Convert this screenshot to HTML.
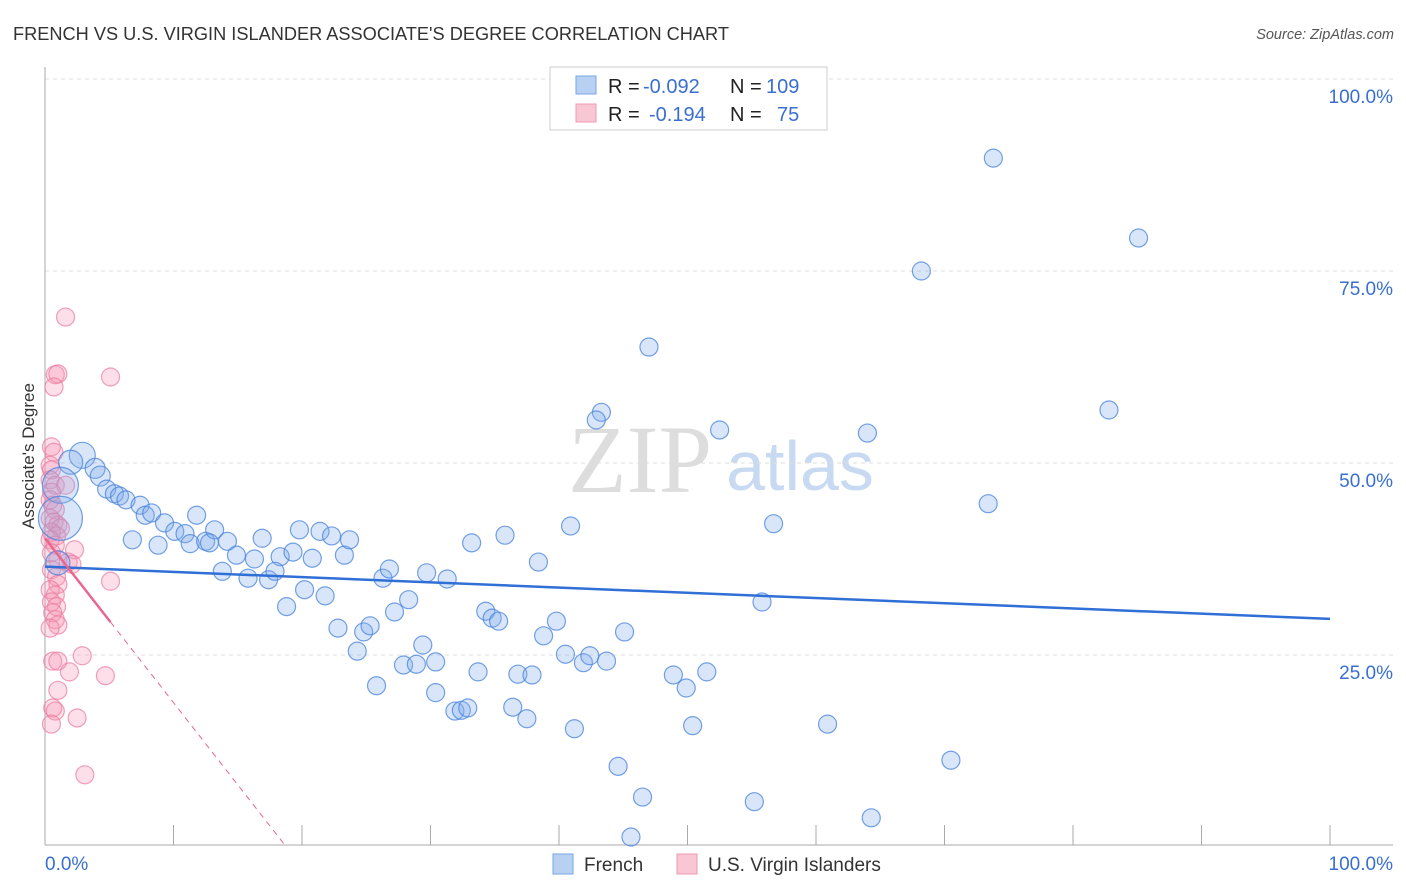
<!DOCTYPE html>
<html><head><meta charset="utf-8"><style>
body{margin:0;background:#fff;font-family:"Liberation Sans",sans-serif;}
#wrap{position:relative;width:1406px;height:892px;overflow:hidden;}
</style></head><body>
<div id="wrap">
<svg id="svg" width="1406" height="892" xmlns="http://www.w3.org/2000/svg">
<text x="13" y="40" font-size="18.2" fill="#333">FRENCH VS U.S. VIRGIN ISLANDER ASSOCIATE'S DEGREE CORRELATION CHART</text>
<text x="1394" y="39" font-size="14.5" fill="#555" font-style="italic" text-anchor="end">Source: ZipAtlas.com</text>
<text x="640" y="492" font-size="96" fill="#ddd" text-anchor="middle" font-family="Liberation Serif,serif">ZIP</text>
<text x="800" y="490" font-size="70" fill="#c8d9f2" text-anchor="middle">atlas</text>
<text transform="translate(34,456) rotate(-90)" font-size="17" fill="#333" text-anchor="middle">Associate's Degree</text>
<g id="grid"></g><g id="pts"></g><g id="lines"></g>
<g>
<rect x="550" y="67" width="277" height="63" fill="#fff" stroke="#ccc"/>
<rect x="576" y="76" width="20" height="18" fill="#b8d1f3" stroke="#7aa6e6"/>
<rect x="576" y="104" width="20" height="18" fill="#f9c6d4" stroke="#ee99b2"/>
<text x="608" y="93" font-size="20" fill="#222">R =</text>
<text x="643" y="93" font-size="20" fill="#3a6fd0">-0.092</text>
<text x="730" y="93" font-size="20" fill="#222">N =</text>
<text x="766" y="93" font-size="20" fill="#3a6fd0">109</text>
<text x="608" y="121" font-size="20" fill="#222">R =</text>
<text x="649" y="121" font-size="20" fill="#3a6fd0">-0.194</text>
<text x="730" y="121" font-size="20" fill="#222">N =</text>
<text x="777" y="121" font-size="20" fill="#3a6fd0">75</text>
</g>
<g>
<rect x="553" y="854" width="20" height="20" fill="#b8d1f3" stroke="#7aa6e6"/>
<text x="584" y="871" font-size="19" fill="#333">French</text>
<rect x="677" y="854" width="20" height="20" fill="#f9c6d4" stroke="#ee99b2"/>
<text x="708" y="871" font-size="19" fill="#333">U.S. Virgin Islanders</text>
</g>
<text x="45" y="870" font-size="19" fill="#3a6fd0">0.0%</text>
<text x="1393" y="870" font-size="19" fill="#3a6fd0" text-anchor="end">100.0%</text>
</svg>
</div>
<script>
const yTicks=[100,75,50,25];
const yTickLabels=["100.0%","75.0%","50.0%","25.0%"];
const frenchX=[73.8,85.1,68.2,47.0,82.8,43.3,42.9,52.5,64.0,73.4,56.7,40.9,35.8,33.2,38.4,55.8,45.1,48.9,51.5,49.9,60.9,50.4,70.5,44.6,46.5,55.2,64.3,45.6,2.9,2.0,1.2,1.2,3.9,4.3,4.8,5.4,5.8,6.3,7.4,7.8,8.3,9.3,10.1,10.9,11.8,11.3,12.5,13.2,14.2,6.8,8.8,12.8,14.9,16.3,16.9,18.3,19.3,19.8,20.8,21.4,22.3,23.3,23.7,13.8,15.8,17.4,17.9,18.8,20.2,21.8,22.8,24.3,24.8,25.3,25.8,26.3,26.8,27.2,27.9,28.3,28.9,29.4,29.7,30.4,31.3,30.4,31.9,32.4,32.9,33.7,34.3,34.8,35.3,36.4,36.8,37.5,37.9,38.8,39.8,40.5,41.2,41.9,42.4,43.7,1.0];
const frenchY=[89.7,79.3,75.0,65.1,56.9,56.6,55.6,54.3,53.9,44.7,42.1,41.8,40.6,39.6,37.1,31.9,28.0,22.4,22.8,20.7,16.0,15.8,11.3,10.5,6.5,5.9,3.8,1.3,51.0,50.1,47.1,42.8,49.3,48.3,46.6,46.0,45.7,45.2,44.5,43.2,43.5,42.2,41.1,40.8,43.2,39.5,39.8,41.3,39.8,40.0,39.3,39.6,38.0,37.5,40.2,37.8,38.4,41.3,37.6,41.1,40.5,38.0,40.0,35.9,35.0,34.8,35.9,31.3,33.5,32.7,28.5,25.5,28.0,28.8,21.0,35.0,36.2,30.6,23.7,32.2,23.8,26.3,35.7,24.1,34.9,20.1,17.7,17.8,18.1,22.8,30.7,29.8,29.4,18.2,22.5,16.7,22.4,27.5,29.4,25.1,15.4,24.0,24.9,24.2,37.0];
const frenchR=[9,9,9,9,9,9,9,9,9,9,9,9,9,9,9,9,9,9,9,9,9,9,9,9,9,9,9,9,13,12,18,22,10,10,9,9,9,9,9,9,9,9,9,9,9,9,9,9,9,9,9,9,9,9,9,9,9,9,9,9,9,9,9,9,9,9,9,9,9,9,9,9,9,9,9,9,9,9,9,9,9,9,9,9,9,9,9,9,9,9,9,9,9,9,9,9,9,9,9,9,9,9,9,9,12];
const usviX=[1.6,5.1,0.8,1.0,0.7,0.5,0.7,0.4,0.5,0.4,0.8,1.6,0.5,0.4,0.6,0.8,0.4,0.7,1.0,1.2,0.5,0.9,0.4,0.8,0.5,2.3,1.0,1.8,2.1,0.5,0.9,1.0,5.1,0.4,0.8,0.5,0.9,0.6,0.8,1.0,0.4,0.6,1.0,2.9,1.9,1.0,4.7,0.6,0.8,2.5,0.5,3.1];
const usviY=[69.0,61.2,61.5,61.6,59.9,52.1,51.4,49.7,49.1,47.8,47.1,47.1,46.2,45.2,44.5,43.9,42.8,42.3,41.9,41.5,41.0,40.5,40.0,39.3,38.3,38.7,37.4,37.1,36.8,36.1,35.2,34.2,34.6,33.5,32.8,31.9,31.3,30.5,29.6,28.9,28.5,24.2,24.2,24.9,22.8,20.4,22.3,18.1,17.7,16.8,16.0,9.4];
const frenchReg=[36.5,29.7];
const usviReg=[40.2,-2.14];
const X0=45,X1=1330,Y0=847,Y100=79;
const sx=v=>X0+(X1-X0)*v/100, sy=v=>Y0+(Y100-Y0)*v/100;
const NS="http://www.w3.org/2000/svg";
function mk(t,a,p){const e=document.createElementNS(NS,t);for(const k in a)e.setAttribute(k,a[k]);p.appendChild(e);return e;}
const grid=document.getElementById('grid');
yTicks.forEach((t,i)=>{
 const l=mk('line',{x1:45,x2:1393,y1:sy(t),y2:sy(t),stroke:'#ddd','stroke-dasharray':'4,4'},grid);
 
 
 const tx=mk('text',{x:1393,y:sy(t)+24,'font-size':19,fill:'#3a6fd0','text-anchor':'end'},grid);
 tx.textContent=yTickLabels[i];
 
 
});
mk('line',{x1:45,x2:45,y1:67,y2:845,stroke:'#aaa'},grid);
mk('line',{x1:45,x2:1393,y1:845,y2:845,stroke:'#aaa'},grid);
for(let i=0;i<=10;i++){const t=mk('line',{x1:sx(i*10),x2:sx(i*10),y1:825,y2:845,stroke:'#aaa'},grid);
 
 }
const pts=document.getElementById('pts');
usviX.forEach((x,i)=>{const c=mk('circle',{cx:sx(x),cy:sy(usviY[i]),r:9,fill:'rgba(244,150,178,0.3)',stroke:'rgba(236,120,158,0.7)','stroke-width':1.2},pts);
 
 });
frenchX.forEach((x,i)=>{const c=mk('circle',{cx:sx(x),cy:sy(frenchY[i]),r:frenchR[i],fill:'rgba(130,172,235,0.3)',stroke:'rgba(70,130,220,0.75)','stroke-width':1.2},pts);
 
 });
const lines=document.getElementById('lines');
const fl=mk('line',{x1:sx(0),y1:sy(frenchReg[0]),x2:sx(100),y2:sy(frenchReg[1]),stroke:'#2f6fd6','stroke-width':2.5},lines);


const ue=5.1, uz=-usviReg[0]/usviReg[1];
const ul=mk('line',{x1:sx(0),y1:sy(usviReg[0]),x2:sx(ue),y2:sy(usviReg[0]+usviReg[1]*ue),stroke:'#e8668f','stroke-width':2.5},lines);


const ud=mk('line',{x1:sx(ue),y1:sy(usviReg[0]+usviReg[1]*ue),x2:sx(uz),y2:sy(0),stroke:'#e8668f','stroke-width':1,'stroke-dasharray':'6,5'},lines);


</script>
</body></html>
